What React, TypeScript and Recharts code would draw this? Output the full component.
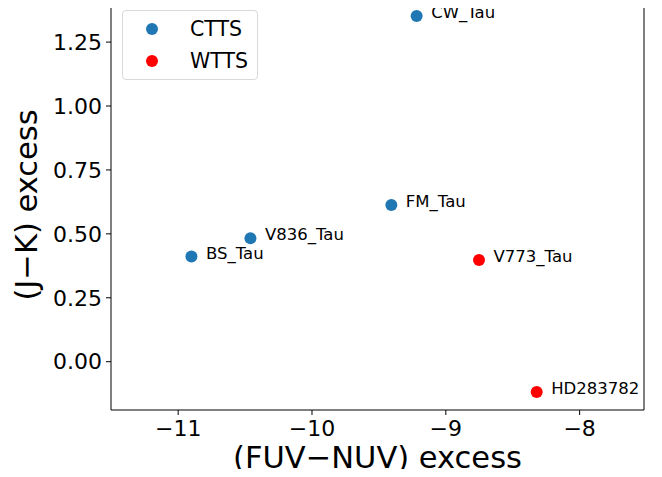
import { ScatterChart, Scatter, XAxis, YAxis } from "recharts";

const FONT = "DejaVu Sans, sans-serif";

// star names, (FUV-NUV) excess, (J-K) excess
const cttsNames = ["CW_Tau", "FM_Tau", "V836_Tau", "BS_Tau"];
const cttsX = [-9.218, -9.407, -10.46, -10.901];
const cttsY = [1.352, 0.613, 0.483, 0.411];

const wttsNames = ["V773_Tau", "HD283782"];
const wttsX = [-8.752, -8.321];
const wttsY = [0.398, -0.119];

const xTicks = [-11, -10, -9, -8];
const yTicks = [0, 0.25, 0.5, 0.75, 1.0, 1.25];

const cttsData = cttsNames.map((name, i) => ({ name, x: cttsX[i], y: cttsY[i] }));
const wttsData = wttsNames.map((name, i) => ({ name, x: wttsX[i], y: wttsY[i] }));

const minus = (s: string) => s.replace("-", "\u2212");

function Dot(props: any) {
  const { cx, cy, payload, fill } = props;
  return (
    <g>
      <circle cx={cx} cy={cy} r={6} fill={fill} />
      <text x={cx + 14.5} y={cy + 2} fontSize={16.5} fontFamily={FONT} fill="#000">
        {payload.name}
      </text>
    </g>
  );
}

// the top frame of the plot sits just above the visible page, as in the original
const Y_DOMAIN = [-0.189, 1.446];

export default function App() {
  return (
    <div style={{ margin: -8, position: "relative", width: 662, height: 477, overflow: "hidden", background: "#fff" }}>
      <div style={{ position: "absolute", left: 0, top: -8 }}>
        <ScatterChart width={662} height={485} margin={{ top: 0, right: 0, bottom: 0, left: 0 }}>
          <XAxis
            type="number"
            dataKey="x"
            domain={[-11.502, -7.519]}
            ticks={xTicks}
            tickFormatter={(v: number) => minus(String(v))}
            height={67}
            stroke="#000"
            tickSize={5}
            tickMargin={5}
            tick={{ fill: "#000", fontSize: 22, fontFamily: FONT }}
            label={{ value: "(FUV\u2212NUV) excess", position: "insideBottom", offset: 9, fontSize: 30.5, fontFamily: FONT, fill: "#000" }}
          />
          <YAxis
            type="number"
            dataKey="y"
            domain={Y_DOMAIN}
            ticks={yTicks}
            tickFormatter={(v: number) => minus(v.toFixed(2))}
            width={111}
            stroke="#000"
            tickSize={5}
            tickMargin={4}
            tick={{ fill: "#000", fontSize: 22, fontFamily: FONT }}
            label={{ value: "(J\u2212K) excess", angle: -90, position: "insideLeft", offset: 26, dy: 4, style: { textAnchor: "middle" }, fontSize: 30.5, fontFamily: FONT, fill: "#000" }}
          />
          <YAxis
            yAxisId="right"
            orientation="right"
            width={18}
            tick={false}
            tickLine={false}
            stroke="#000"
            domain={Y_DOMAIN}
          />
          <Scatter name="CTTS" data={cttsData} fill="#1f77b4" shape={<Dot />} isAnimationActive={false} />
          <Scatter name="WTTS" data={wttsData} fill="#ff0000" shape={<Dot />} isAnimationActive={false} />
        </ScatterChart>
      </div>
      <div
        style={{
          position: "absolute",
          left: 122,
          top: 10,
          width: 136,
          height: 70,
          border: "1px solid #d9d9d9",
          borderRadius: 4,
          background: "rgba(255,255,255,0.8)",
          fontFamily: FONT,
          fontSize: 20.5,
          boxSizing: "border-box",
        }}
      >
        {[
          { label: "CTTS", color: "#1f77b4", top: 18 },
          { label: "WTTS", color: "#ff0000", top: 50 },
        ].map((it) => (
          <div key={it.label}>
            <span
              style={{
                position: "absolute",
                left: 23,
                top: it.top - 6,
                width: 12,
                height: 12,
                borderRadius: 6,
                background: it.color,
              }}
            />
            <span style={{ position: "absolute", left: 67, top: it.top - 12, lineHeight: "24px" }}>{it.label}</span>
          </div>
        ))}
      </div>
    </div>
  );
}
